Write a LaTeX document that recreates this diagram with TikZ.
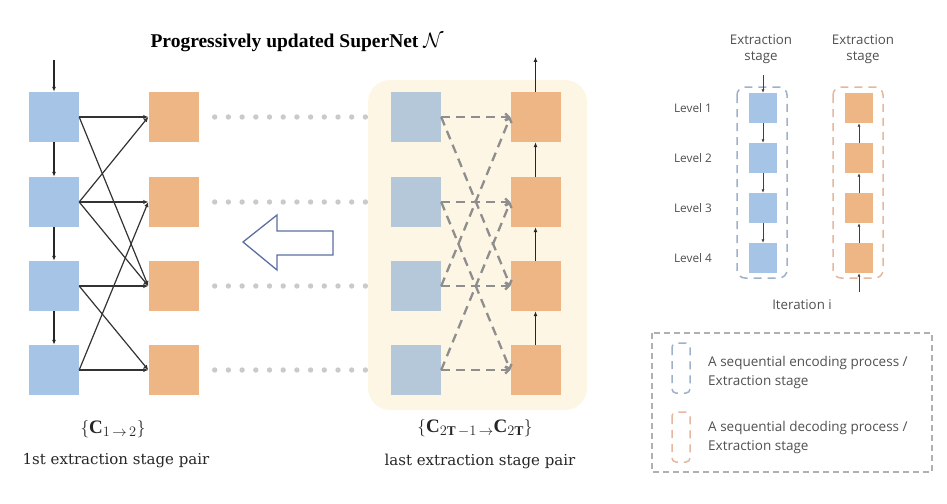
\documentclass[tikz,border=0pt]{standalone}
\usepackage{fontspec}
\setmainfont{Liberation Serif}
\newfontfamily\labelfont{DejaVu Serif}
\newfontfamily\uifont{Open Sans}
\usetikzlibrary{arrows.meta}
\definecolor{lblue}{HTML}{A6C4E6}
\definecolor{gblue}{HTML}{B4C8D9}
\definecolor{lorange}{HTML}{EFB685}
\definecolor{yellowbg}{HTML}{FEF6E4}
\definecolor{dotgray}{HTML}{CACACA}
\definecolor{dashgray}{HTML}{8E8E8E}
\definecolor{arrowblue}{HTML}{5C6FA0}
\definecolor{txtgray}{HTML}{505050}
\definecolor{legblue}{HTML}{9FB0CB}
\definecolor{legorange}{HTML}{E4B79E}
\definecolor{boxgray}{HTML}{B0B0B0}
\tikzset{
  bsq/.style={fill=lblue, minimum width=50pt, minimum height=50pt, inner sep=0pt},
  gsq/.style={fill=gblue, minimum width=50pt, minimum height=50pt, inner sep=0pt},
  osq/.style={fill=lorange, minimum width=50pt, minimum height=50pt, inner sep=0pt},
  sbsq/.style={fill=lblue, minimum width=28pt, minimum height=30pt, inner sep=0pt},
  sosq/.style={fill=lorange, minimum width=28pt, minimum height=30pt, inner sep=0pt},
  conn/.style={draw=black!80, line width=1.2pt, -{Latex[length=5pt,width=4.5pt]}},
  flow/.style={draw=black!85, line width=1.2pt, -{Latex[length=5pt,width=4pt]}},
  sflow/.style={draw=black!75, line width=0.9pt, -{Latex[length=3.5pt,width=3pt]}},
  dconn/.style={draw=dashgray, line width=2.3pt, dash pattern=on 9pt off 6pt, -{Straight Barb[length=3.5pt,width=7pt]}},
  dots/.style={draw=dotgray, line width=5.4pt, line cap=round, dash pattern=on 0pt off 13.7pt},
  ui/.style={font=\uifont\fontsize{13.3}{16}\selectfont, text=txtgray, inner sep=0pt, align=center},
  uilev/.style={font=\uifont\fontsize{11.8}{14}\selectfont, text=txtgray, inner sep=0pt},
  uil/.style={font=\uifont\fontsize{13.5}{19}\selectfont, text=txtgray, inner sep=0pt, align=left, anchor=west},
  lbl/.style={font=\labelfont\fontsize{15}{18}\selectfont, text=black!85, inner sep=0pt},
  mlbl/.style={font=\fontsize{19}{22}\selectfont, text=black!85, inner sep=0pt},
}
\begin{document}
\begin{tikzpicture}[x=1pt,y=-1pt]
\useasboundingbox (0,0) rectangle (947,503);

% title
\node[font=\bfseries\fontsize{19.5}{22}\selectfont, inner sep=0pt] (title) at (297,43) {Progressively updated SuperNet $\mathcal{N}$};

% yellow panel
\fill[yellowbg, rounded corners=22pt] (368,80) rectangle (587,410);

% squares
\foreach \i/\y in {1/117,2/202,3/286,4/370}{
  \node[bsq] (b\i) at (54,\y) {};
  \node[osq] (o\i) at (173.5,\y) {};
  \node[gsq] (r\i) at (416,\y) {};
  \node[osq] (q\i) at (535.5,\y) {};
}
\coordinate (lin) at (54,60);
\coordinate (rout) at (535.5,57);
\draw[flow] (lin) -- (b1.north);
\draw[flow] (b1.south) -- (b2.north);
\draw[flow] (b2.south) -- (b3.north);
\draw[flow] (b3.south) -- (b4.north);
\draw[flow] (q4.north) -- (q3.south);
\draw[flow] (q3.north) -- (q2.south);
\draw[flow] (q2.north) -- (q1.south);
\draw[flow] (q1.north) -- (rout);

% left connections
\draw[conn] (b1.east) -- (o1.west);
\draw[conn] (b1.east) -- (o3.west);
\draw[conn] (b2.east) -- (o1.west);
\draw[conn] (b2.east) -- (o2.west);
\draw[conn] (b2.east) -- (o3.west);
\draw[conn] (b3.east) -- (o3.west);
\draw[conn] (b3.east) -- (o4.west);
\draw[conn] (b4.east) -- (o4.west);
\draw[conn] (b4.east) -- (o2.west);

% right dashed connections
\draw[dconn] (r1.east) -- (q1.west);
\draw[dconn] (r2.east) -- (q2.west);
\draw[dconn] (r3.east) -- (q3.west);
\draw[dconn] (r4.east) -- (q4.west);
\draw[dconn] (r1.east) -- (q3.west);
\draw[dconn] (r2.east) -- (q4.west);
\draw[dconn] (r3.east) -- (q1.west);
\draw[dconn] (r4.east) -- (q2.west);

% dotted links
\foreach \i in {1,2,3,4}{
  \draw[dots] ([xshift=16pt]o\i.east) -- ([xshift=-24pt]r\i.west);
}

% hollow arrow
\draw[arrowblue, fill=white, line width=1.3pt, line join=miter]
  (243,242) -- (277,215) -- (277,231) -- (333,231) -- (333,255) -- (277,255) -- (277,270) -- cycle;

% bottom labels
\node[mlbl] (c1) at (113,429) {$\{\mathbf{C}_{1\,\rightarrow\,2}\}$};
\node[lbl] (p1) at (116,461) {1st extraction stage pair};
\node[mlbl] (c2) at (475,428) {$\{\mathbf{C}_{2\mathbf{T}\,-1\,\rightarrow}\mathbf{C}_{2\mathbf{T}}\}$};
\node[lbl] (p2) at (480,461) {last extraction stage pair};

% right panel
\node[ui] (h1) at (761,49) {Extraction\\stage};
\node[ui] (h2) at (863,49) {Extraction\\stage};
\draw[legblue, line width=1.5pt, dash pattern=on 8pt off 6pt, rounded corners=8pt] (737,87) rectangle (787,278);
\draw[legorange, line width=1.5pt, dash pattern=on 8pt off 6pt, rounded corners=8pt] (833,87) rectangle (883,278);
\foreach \i/\y in {1/108,2/158,3/208,4/258}{
  \node[sbsq] (e\i) at (763,\y) {};
  \node[sosq] (d\i) at (859,\y) {};
  \node[uilev] (lv\i) at (693,\y) {Level \i};
}
\coordinate (ein) at (763,75);
\coordinate (din) at (859,292);
\draw[sflow] (ein) -- (e1.north);
\draw[sflow] (e1.south) -- (e2.north);
\draw[sflow] (e2.south) -- (e3.north);
\draw[sflow] (e3.south) -- (e4.north);
\draw[sflow] (din) -- (d4.south);
\draw[sflow] (d4.north) -- (d3.south);
\draw[sflow] (d3.north) -- (d2.south);
\draw[sflow] (d2.north) -- (d1.south);
\node[ui] (iter) at (802,305) {Iteration i};

% legend
\draw[boxgray, line width=1.2pt, dash pattern=on 6pt off 4pt] (652,333) rectangle (932,472);
\draw[legblue, line width=1.5pt, dash pattern=on 8pt off 6pt, rounded corners=4pt] (672,343) rectangle (690,393);
\draw[legorange, line width=1.5pt, dash pattern=on 8pt off 6pt, rounded corners=4pt] (672,412) rectangle (690,462);
\node[uil] (l1) at (708,372) {A sequential encoding process /\\Extraction stage};
\node[uil] (l2) at (708,437) {A sequential decoding process /\\Extraction stage};
\end{tikzpicture}
\end{document}
